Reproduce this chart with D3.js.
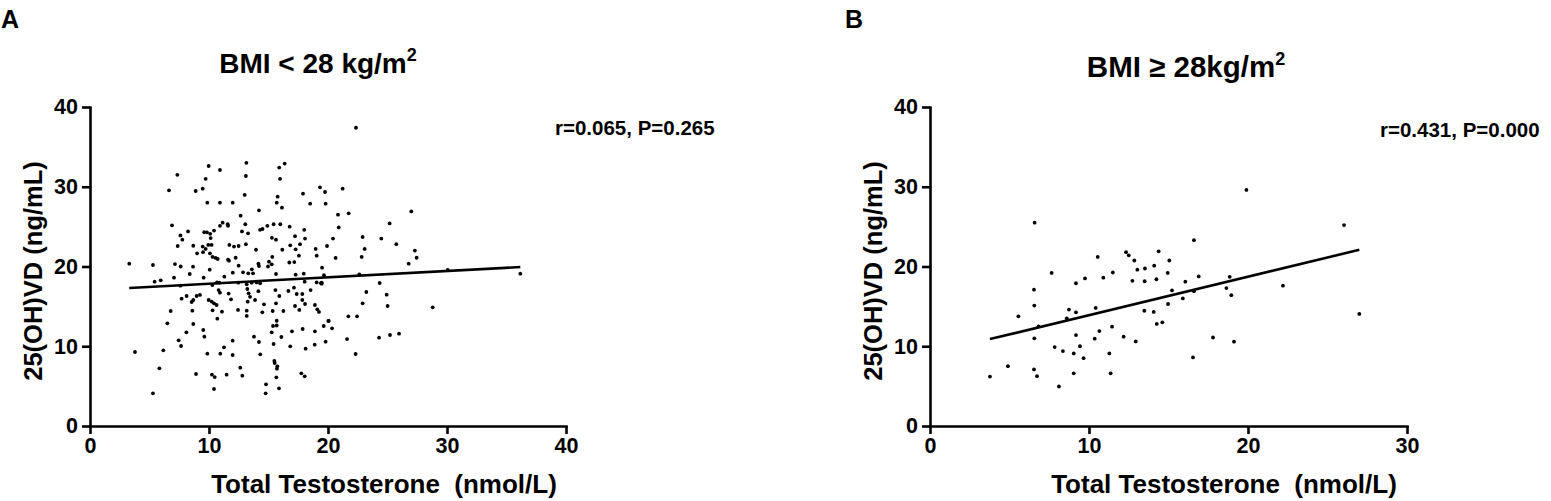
<!DOCTYPE html>
<html>
<head>
<meta charset="utf-8">
<script src="https://cdn.jsdelivr.net/npm/d3@7"></script>
<style>
  html, body { margin: 0; padding: 0; background: #fff; }
  svg { display: block; }
  text { font-family: "Liberation Sans", Arial, Helvetica, sans-serif; font-weight: bold; fill: #000; }
</style>
</head>
<body>
<svg id="chart" width="1551" height="501"></svg>
<script>
// ---------- Data ----------
const xTicksA = [0, 10, 20, 30, 40];
const yTicks = [0, 10, 20, 30, 40];
const xTicksB = [0, 10, 20, 30];

// Panel A: BMI < 28 kg/m2 — Total Testosterone (nmol/L)
const aX = [
9.97,10.92,13.14,13.1,15.9,16.36,15.97,7.34,9.72,6.64,8.88,9.47,13.0,9.86,10.92,11.99,15.69,15.77,16.13,17.9,
18.5,19.33,19.75,19.8,14.2,12.66,6.89,8.24,7.6,7.76,7.37,9.6,9.83,10.1,10.14,10.42,10.92,11.15,11.57,11.6,
12.77,13.05,13.28,14.29,14.5,14.9,15.43,15.99,16.78,18.0,17.23,18.07,15.29,15.63,13.1,8.68,9.47,9.72,9.94,10.22,
9.0,9.5,10.08,10.3,10.56,10.73,11.71,12.1,12.49,13.95,11.6,11.68,12.24,16.16,16.83,17.28,17.65,17.56,16.75,17.17,
15.32,15.04,15.27,14.15,14.2,14.96,18.96,19.05,19.92,19.5,3.3,5.29,7.14,7.62,8.66,10.06,8.38,9.55,7.06,11.29,
12.0,12.49,12.86,13.3,13.7,13.6,15.63,17.28,17.96,19.66,
5.43,5.94,7.59,10.28,10.67,7.7,8.12,8.68,8.96,9.24,8.54,6.78,8.6,10.3,11.09,10.7,9.97,10.22,10.42,10.64,
10.81,10.92,11.65,11.85,13.22,13.33,13.45,13.25,13.87,14.15,14.62,14.48,13.17,13.17,15.58,15.91,15.63,16.67,17.14,17.37,
17.84,17.84,18.07,17.23,16.25,17.59,18.54,18.9,19.1,19.24,19.41,15.35,12.44,10.87,13.17,13.59,14.0,14.3,12.46,18.04,
19.05,19.47,
6.5,7.45,7.65,8.1,8.68,9.52,9.61,9.86,10.95,11.26,11.99,11.99,13.78,14.2,14.31,15.27,15.38,15.43,15.69,16.08,
15.69,16.83,16.97,17.87,18.12,18.9,18.88,19.8,20.03,19.64,3.78,6.16,5.83,5.29,8.91,10.25,10.48,11.48,10.42,12.63,
12.8,15.49,15.52,15.74,15.71,15.66,15.88,14.79,14.76,17.76,18.04,
22.35,21.23,20.84,21.74,20.9,20.42,20.64,22.91,23.08,22.83,24.48,25.18,25.74,27.0,27.3,27.45,26.78,22.63,30.06,36.16,
19.47,24.34,23.22,24.93,22.91,25.01,28.8,21.71,22.44,20.06,20.34,21.6,24.29,25.21,25.97,22.32
];
// Panel A: 25(OH)VD (ng/mL)
const aY = [
32.6,32.1,33.0,31.35,32.4,32.9,31.0,31.5,31.0,29.55,29.47,29.76,28.97,28.0,28.0,28.0,28.0,28.76,27.38,29.13,
27.88,29.93,29.34,27.88,27.04,26.37,25.16,24.4,23.9,23.36,22.57,24.3,24.28,24.1,23.57,24.5,25.1,25.5,25.3,25.1,
24.4,25.3,24.16,24.6,24.7,25.1,25.3,25.3,25.0,24.6,23.8,23.5,23.6,23.36,22.8,22.6,22.5,22.2,22.7,22.7,
21.65,21.8,21.65,21.2,21.07,20.94,22.7,22.5,22.57,22.1,20.86,20.73,21.1,22.1,22.65,22.15,22.8,21.36,20.5,20.56,
21.2,20.6,20.27,20.35,20.06,20.0,22.2,21.36,22.57,19.85,20.36,20.19,20.3,20.0,19.98,19.6,19.06,18.6,18.6,18.72,
19.23,20.1,19.27,19.14,19.14,19.64,19.06,18.98,19.1,18.9,
18.1,18.27,17.6,17.68,18.0,15.97,16.3,15.8,16.3,16.43,15.55,14.42,14.46,14.5,14.34,13.46,15.8,15.6,15.38,15.17,
17.05,16.72,16.6,15.88,17.18,16.64,16.2,15.59,15.8,16.9,15.26,14.25,14.46,13.8,17.05,16.3,15.38,16.93,17.35,16.55,
16.55,15.8,15.3,15.05,14.42,14.55,17.05,15.17,14.63,14.3,17.9,14.42,14.55,17.97,17.76,17.97,18.0,17.9,17.97,18.1,
18.0,17.97,
12.87,10.74,10.03,11.75,12.79,12.04,11.2,9.07,9.07,9.86,10.7,8.9,11.2,10.53,8.99,11.75,12.54,10.28,13.2,11.16,
12.6,9.99,11.87,12.16,9.7,11.87,10.2,10.57,13.17,12.54,9.28,9.49,7.23,4.1,6.52,6.44,6.14,6.44,4.64,7.31,
6.31,8.15,7.9,7.48,7.19,6.1,4.72,5.22,4.1,6.6,6.23,
37.4,29.76,26.5,26.67,24.9,23.5,21.07,23.7,22.2,21.2,23.5,25.4,22.8,26.9,22.0,21.1,20.35,19.0,19.56,19.1,
17.85,17.93,16.8,16.47,15.38,15.05,14.88,13.75,13.75,13.17,12.25,10.9,11.08,11.41,11.58,9.03
];

// Panel B: BMI >= 28 kg/m2
const bX = [
3.77,4.9,5.56,6.54,6.56,6.56,6.83,6.54,6.73,7.65,7.84,8.11,8.36,8.74,8.6,9.18,9.18,9.18,9.43,9.04,
9.66,9.04,9.75,10.55,10.36,10.42,10.65,10.9,11.5,11.45,11.28,11.36,12.18,12.33,12.5,12.85,13.04,12.73,12.94,13.52,
13.5,13.48,14.1,14.38,14.24,14.07,14.26,14.61,14.95,15.05,14.97,15.22,16.06,15.9,16.6,16.6,16.9,16.54,17.8,
6.58,19.9,26.04,18.85,18.64,18.95,22.2,27.0,19.12
];
const bY = [
6.2,7.5,13.75,17.1,15.1,11.0,12.5,7.1,6.25,19.2,9.9,4.95,9.4,14.6,13.5,17.9,14.25,11.4,10.0,9.1,
8.5,6.6,18.5,21.2,10.95,14.8,11.9,18.6,19.25,12.45,9.1,6.6,11.2,21.8,21.4,20.75,19.6,18.2,10.6,19.75,
18.15,14.45,20.1,21.9,18.4,14.3,12.8,13.0,19.2,20.75,15.3,17.0,18.1,16.0,23.3,16.9,18.75,8.6,11.1,
25.5,29.6,25.2,18.7,17.3,16.4,17.6,14.05,10.57
];

// Fitted regression lines (intercept, slope)
const fitA = [17.04, 0.080];
const fitB = [9.08, 0.482];

const titles = ["BMI < 28 kg/m", "BMI \u2265 28kg/m"];
const stats = ["r=0.065, P=0.265", "r=0.431, P=0.000"];
const letters = ["A", "B"];
const xTitle = "Total Testosterone\u00a0\u00a0(nmol/L)";
const yTitle = "25(OH)VD (ng/mL)";

// ---------- Drawing ----------
const svg = d3.select("#chart");

function panel(cfg) {
  const x = d3.scaleLinear().domain(cfg.xDomain).range([cfg.left, cfg.right]);
  const y = d3.scaleLinear().domain([0, 40]).range([426, 107]);
  const g = svg.append("g");

  // points
  const pts = cfg.xs.map((v, i) => [v, cfg.ys[i]]);
  g.append("g").selectAll("circle").data(pts).join("circle")
    .attr("cx", d => x(d[0])).attr("cy", d => y(d[1])).attr("r", 1.9).attr("fill", "#000");

  // regression line
  const x0 = d3.min(cfg.xs), x1 = d3.max(cfg.xs);
  const line = d3.line().x(d => x(d)).y(d => y(cfg.fit[0] + cfg.fit[1] * d));
  g.append("path").datum([x0, x1]).attr("d", line)
    .attr("stroke", "#000").attr("stroke-width", 2.6).attr("fill", "none");

  // axes
  const xa = g.append("g").attr("transform", "translate(0,426)")
    .call(d3.axisBottom(x).tickValues(cfg.xTicks).tickSize(8).tickSizeOuter(0).tickPadding(4).tickFormat(d3.format("d")));
  const ya = g.append("g").attr("transform", `translate(${cfg.left},0)`)
    .call(d3.axisLeft(y).tickValues(yTicks).tickSize(8).tickSizeOuter(0).tickPadding(4).tickFormat(d3.format("d")));
  [xa, ya].forEach(a => {
    a.selectAll("path,line").attr("stroke", "#000").attr("stroke-width", 2.6);
    a.selectAll("text").attr("font-size", 21.5).attr("font-family", '"Liberation Sans", Arial, sans-serif')
      .attr("font-weight", "bold").attr("fill", "#000");
  });
  xa.select(".domain").attr("stroke-linecap", "square");
  ya.select(".domain").attr("stroke-linecap", "square");

  // axis titles
  g.append("text").attr("x", cfg.xTitleX).attr("y", 493)
    .attr("text-anchor", "middle").attr("font-size", 26).text(xTitle);
  g.append("text").attr("transform", `translate(${cfg.left - 48},271) rotate(-90)`)
    .attr("text-anchor", "middle").attr("font-size", 25.5).text(yTitle);

  // title with superscript
  const t = g.append("text").attr("x", cfg.titleX).attr("y", cfg.titleY)
    .attr("text-anchor", "middle").attr("font-size", cfg.titleSize);
  t.append("tspan").text(cfg.title);
  t.append("tspan").attr("font-size", 18).attr("dy", -12).text("2");

  // stats
  g.append("text").attr("x", cfg.statX).attr("y", cfg.statY).attr("font-size", 20.5).text(cfg.stat);

  // panel letter
  g.append("text").attr("x", cfg.letterX).attr("y", 28).attr("font-size", 25).text(cfg.letter);
}

panel({ xs: aX, ys: aY, fit: fitA, xDomain: [0, 40], xTicks: xTicksA, left: 90, right: 566, xTitleX: 384,
  title: titles[0], titleX: 318, titleY: 73, titleSize: 28, stat: stats[0], statX: 555, statY: 135, letter: letters[0], letterX: 1 });
panel({ xs: bX, ys: bY, fit: fitB, xDomain: [0, 30], xTicks: xTicksB, left: 930, right: 1407, xTitleX: 1224,
  title: titles[1], titleX: 1186, titleY: 77, titleSize: 29.5, stat: stats[1], statX: 1380, statY: 137, letter: letters[1], letterX: 845 });
</script>
</body>
</html>
